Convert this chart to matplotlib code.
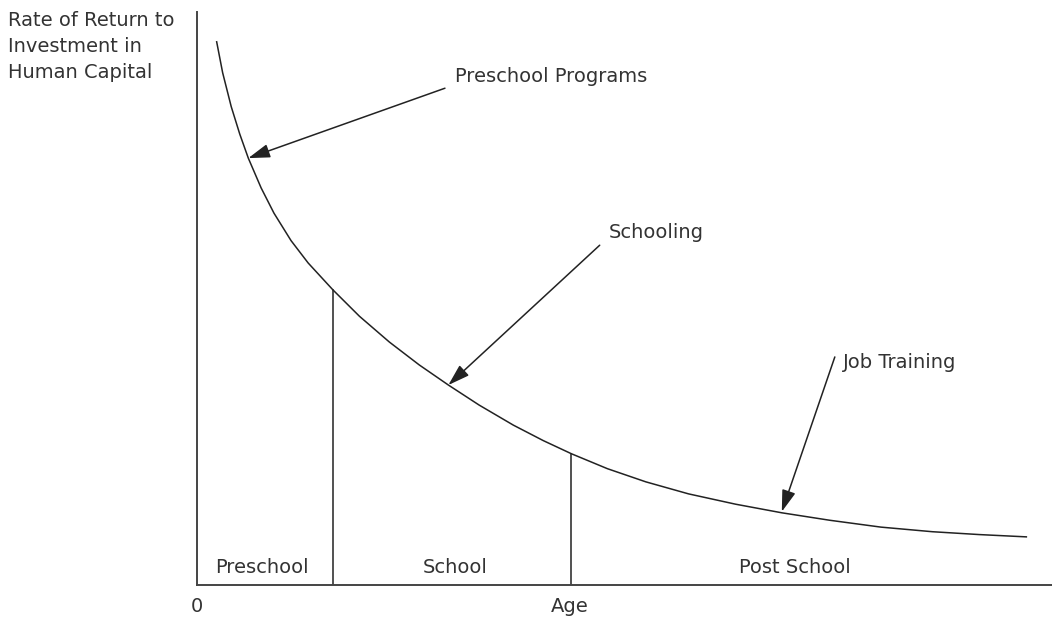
import numpy as np
import matplotlib
matplotlib.use("Agg")
import matplotlib.pyplot as plt

# rate of return curve (age, rate), arbitrary units
age = [0.23, 0.30, 0.40, 0.50, 0.60, 0.75, 0.90, 1.10, 1.30, 1.59,
       1.90, 2.25, 2.60, 2.94, 3.30, 3.70, 4.05, 4.38, 4.80, 5.25,
       5.75, 6.30, 6.84, 7.40, 8.00, 8.60, 9.15, 9.70]
rate = [9.48, 8.94, 8.35, 7.87, 7.45, 6.93, 6.49, 6.01, 5.62, 5.15,
        4.69, 4.24, 3.84, 3.49, 3.14, 2.79, 2.52, 2.29, 2.03, 1.80,
        1.59, 1.41, 1.26, 1.13, 1.01, 0.93, 0.88, 0.84]

# boundaries between life stages
stage_edges = [1.59, 4.38]
stages = ["Preschool", "School", "Post School"]
stage_centers = [0.76, 3.02, 6.99]

# arrow labels: text, text position, arrow tail, arrow tip
arrow_labels = ["Preschool Programs", "Schooling", "Job Training"]
label_pos = [(3.02, 8.87), (4.82, 6.16), (7.56, 3.89)]
arrow_tail = [(2.90, 8.67), (4.71, 5.93), (7.46, 3.98)]
arrow_tip = [(0.60, 7.45), (2.94, 3.49), (6.84, 1.28)]

ylabel_lines = ["Rate of Return to", "Investment in", "Human Capital"]

ink = "#222222"
txt = "#333333"
fs = 14

fig = plt.figure(figsize=(10.52, 6.17), dpi=100)
ax = fig.add_axes([197 / 1052, 32 / 617, 855 / 1052, 573 / 617])
ax.set_xlim(0, 10)
ax.set_ylim(0, 10)

ax.plot(age, rate, color=ink, lw=1.1, solid_joinstyle="round")

for e in stage_edges:
    h = np.interp(e, age, rate)
    ax.plot([e, e], [0, h], color=ink, lw=1.1)

for s, c in zip(stages, stage_centers):
    ax.text(c, 0.30, s, ha="center", va="center", fontsize=fs, color=txt)

for lab, p, t0, t1 in zip(arrow_labels, label_pos, arrow_tail, arrow_tip):
    ax.annotate("", xy=t1, xytext=t0,
                arrowprops=dict(arrowstyle="-|>,head_length=1.1,head_width=0.35",
                                color=ink, lw=1.1, mutation_scale=12,
                                shrinkA=0, shrinkB=0))
    ax.text(p[0], p[1], lab, ha="left", va="center", fontsize=fs, color=txt)

for sp in ["top", "right"]:
    ax.spines[sp].set_visible(False)
for sp in ["left", "bottom"]:
    ax.spines[sp].set_color("#444444")
    ax.spines[sp].set_linewidth(1.4)
ax.set_xticks([])
ax.set_yticks([])

ax.text(0, -0.37, "0", ha="center", va="center", fontsize=fs, color=txt,
        clip_on=False)
ax.text(4.36, -0.37, "Age", ha="center", va="center", fontsize=fs, color=txt,
        clip_on=False)

for i, line in enumerate(ylabel_lines):
    fig.text(8 / 1052, 1 - (20 + 26 * i) / 617, line, ha="left", va="center",
             fontsize=fs, color=txt)

fig.savefig("out.png", dpi=100, facecolor="white")
